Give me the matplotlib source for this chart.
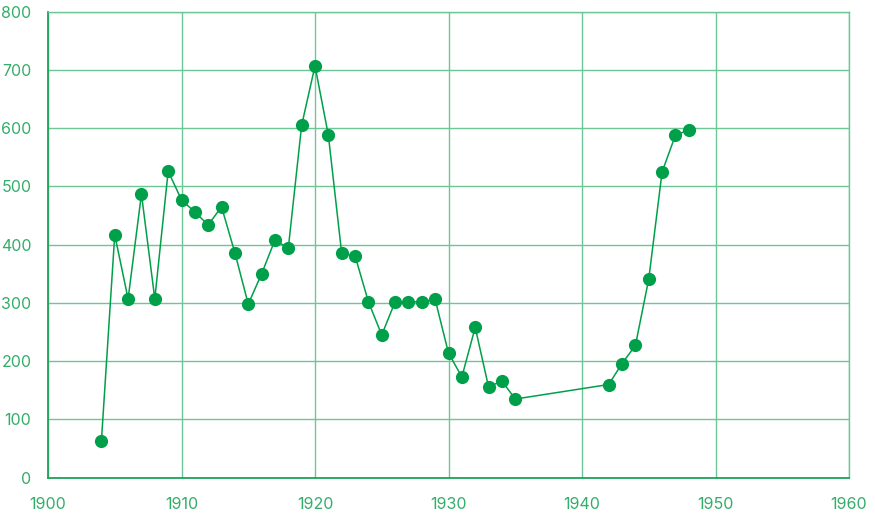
import matplotlib
matplotlib.use('Agg')
import matplotlib.pyplot as plt

years = [1904, 1905, 1906, 1907, 1908, 1909, 1910, 1911, 1912, 1913,
         1914, 1915, 1916, 1917, 1918, 1919, 1920, 1921, 1922, 1923,
         1924, 1925, 1926, 1927, 1928, 1929, 1930, 1931, 1932, 1933,
         1934, 1935, 1942, 1943, 1944, 1945, 1946, 1947, 1948]
values = [63, 417, 307, 487, 307, 526, 477, 456, 434, 465,
          386, 298, 350, 408, 394, 605, 707, 588, 385, 381,
          302, 245, 302, 302, 302, 306, 214, 173, 258, 156,
          166, 135, 160, 196, 227, 341, 525, 588, 597]

xticks = [1900, 1910, 1920, 1930, 1940, 1950, 1960]
yticks = [0, 100, 200, 300, 400, 500, 600, 700, 800]

green = '#00a04a'
grid_green = '#6cc795'
text_green = '#34ad6a'

plt.rcParams['font.family'] = ['Inter', 'DejaVu Sans']

fig = plt.figure(figsize=(8.75, 5.13), dpi=100)
ax = fig.add_axes([48/875, 35.3/513, 801/875, 466/513])

ax.plot(years, values, color=green, linewidth=1.1, marker='o',
        markersize=9.5, markerfacecolor=green, markeredgewidth=0, zorder=3)

ax.set_xlim(1900, 1960)
ax.set_ylim(0, 800)
ax.set_xticks(xticks)
ax.set_yticks(yticks)
ax.grid(True, color=grid_green, linewidth=1.0)
ax.set_axisbelow(True)

for side in ['top', 'right']:
    ax.spines[side].set_color(grid_green)
    ax.spines[side].set_linewidth(1.0)
for side in ['left', 'bottom']:
    ax.spines[side].set_color('#1da35a')
    ax.spines[side].set_linewidth(1.3)

ax.tick_params(axis='both', length=0, labelcolor=text_green, labelsize=11.5)
ax.tick_params(axis='x', pad=14)
ax.tick_params(axis='y', pad=12)

fig.savefig('out.png', dpi=100)
